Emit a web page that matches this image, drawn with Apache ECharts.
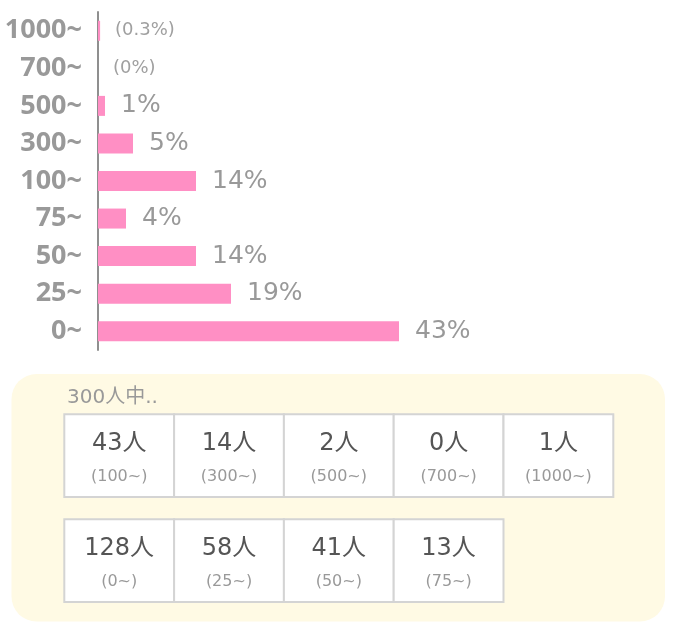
<!DOCTYPE html>
<html>
<head>
<meta charset="utf-8">
<script src="https://cdn.jsdelivr.net/npm/echarts@6/dist/echarts.min.js"></script>
<style>
  html, body { margin: 0; padding: 0; background: #ffffff; }
  #chart { width: 679px; height: 633px; }
</style>
</head>
<body>
<div id="chart"></div>
<script>
// ---- data ----
const categories = ['0~', '25~', '50~', '75~', '100~', '300~', '500~', '700~', '1000~'];
const percents   = [43, 19, 14, 4, 14, 5, 1, 0, 0.3];
const counts     = [128, 58, 41, 13, 43, 14, 2, 0, 1];
const totalText  = '300人中..';
const unit       = '人';
const row1Cats   = ['100~', '300~', '500~', '700~', '1000~'];
const row2Cats   = ['0~', '25~', '50~', '75~'];

// ---- styles ----
const FONT = "'DejaVu Sans', 'Noto Sans CJK JP', sans-serif";
const AXFONT = "'Noto Sans', sans-serif";
const GRAY = '#999999';
const BAR = '#ff8fc4';

const barData = percents.map(function (v) {
  const small = v < 1;
  return {
    value: v,
    label: small ? {
      formatter: '(' + v + '%)',
      fontSize: 18,
      color: '#a0a0a0',
      distance: 15
    } : {
      formatter: v + '%',
      fontSize: 25,
      color: GRAY,
      distance: 16
    }
  };
});

// ---- bottom panel ----
const graphics = [];
graphics.push({
  type: 'rect',
  shape: { x: 11.5, y: 374, width: 653.5, height: 247.5, r: 25 },
  style: { fill: '#fffae4' },
  z: 0
});
graphics.push({
  type: 'text',
  x: 67, y: 398,
  style: { text: totalText, fill: GRAY, font: '20px ' + FONT, textAlign: 'left', textVerticalAlign: 'middle', verticalAlign: 'middle' },
  z: 2
});
function addRow(cats, top) {
  const cw = 109.8, ch = 82.7, x0 = 64.3;
  cats.forEach(function (c, i) {
    const idx = categories.indexOf(c);
    const x = x0 + i * cw;
    graphics.push({
      type: 'rect',
      shape: { x: x, y: top, width: cw, height: ch },
      style: { fill: '#ffffff', stroke: '#d4d4d4', lineWidth: 2 },
      z: 1
    });
    graphics.push({
      type: 'text',
      x: x + cw / 2, y: top + 29,
      style: { text: counts[idx] + unit, fill: '#555555', font: '24px ' + FONT, textAlign: 'center', textVerticalAlign: 'middle', verticalAlign: 'middle' },
      z: 2
    });
    graphics.push({
      type: 'text',
      x: x + cw / 2, y: top + 63,
      style: { text: '(' + c + ')', fill: GRAY, font: '16px ' + FONT, textAlign: 'center', textVerticalAlign: 'middle', verticalAlign: 'middle' },
      z: 2
    });
  });
}
addRow(row1Cats, 414.3);
addRow(row2Cats, 519.3);

const chart = echarts.init(document.getElementById('chart'), null, { renderer: 'canvas' });
chart.setOption({
  animation: false,
  backgroundColor: '#ffffff',
  textStyle: { fontFamily: FONT },
  grid: { left: 98, top: 12, width: 560, height: 338, containLabel: false, outerBoundsMode: 'none' },
  xAxis: {
    type: 'value', min: 0, max: 80,
    show: false
  },
  yAxis: {
    type: 'category',
    data: categories,
    axisLine: { show: true, lineStyle: { color: '#8f8f8f', width: 2 } },
    axisTick: { show: false },
    splitLine: { show: false },
    axisLabel: { color: GRAY, fontSize: 27, fontWeight: 'bold', margin: 16, fontFamily: AXFONT }
  },
  series: [{
    type: 'bar',
    data: barData,
    barWidth: 20,
    itemStyle: { color: BAR },
    label: { show: true, position: 'right', fontFamily: FONT }
  }],
  graphic: graphics
});
</script>
</body>
</html>
